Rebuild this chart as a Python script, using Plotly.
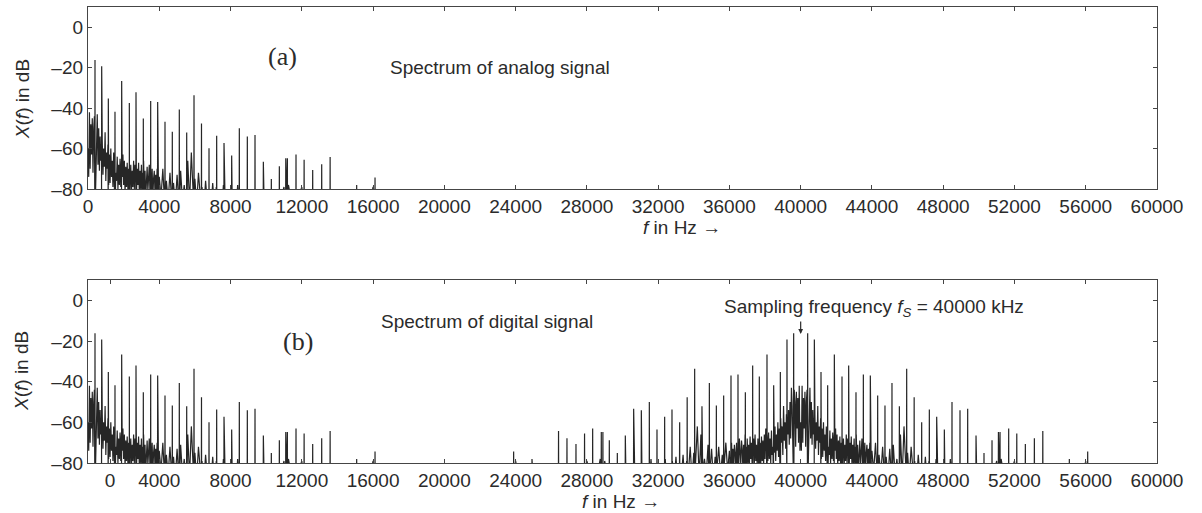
import numpy as np
import plotly.graph_objects as go

# ---------------- data ----------------
fs_hz = 40000

# harmonic spikes of the analog spectrum: frequency (Hz) and peak level (dB)
harm_f = [393, 768, 1141, 1515, 1890, 2320, 2694, 3105, 3518, 3910,
          4322, 4732, 5125, 5540, 5950, 6370, 6792, 7222, 7634, 8064,
          8494, 8943, 9374, 9842, 10290, 10740, 11100, 11190, 11675, 12130,
          12611, 13117, 13590, 15080, 16110]
harm_db = [-16.2, -19.3, -35.2, -41.8, -26.6, -37.5, -32.1, -45.2, -36.5, -37.0,
           -46.8, -51.7, -40.7, -52.1, -33.6, -47.6, -59.9, -53.7, -57.2, -63.5,
           -50.0, -54.1, -53.3, -66.5, -75.1, -68.8, -64.8, -64.8, -63.0, -65.5,
           -70.6, -67.8, -64.2, -78.0, -74.3]

# noise floor, 0 ... 3960 Hz every 40 Hz
noise0_db = [-60, -74, -42, -70, -48, -63, -45, -72, -50, -44,
             -48, -75, -52, -43, -68, -50, -71, -54, -66, -58,
             -56, -73, -60, -69, -52, -76, -62, -70, -58, -78,
             -63, -77, -60, -74, -66, -79, -62, -75, -67, -72,
             -76, -64, -80, -68, -78, -65, -79, -66, -74, -63,
             -78, -66, -82, -69, -79, -67, -81, -70, -64, -77,
             -68, -82, -71, -79, -66, -80, -68, -76, -83, -70,
             -78, -67, -82, -71, -80, -68, -83, -72, -66, -80,
             -71, -84, -73, -69, -81, -74, -68, -83, -72, -79,
             -70, -84, -75, -71, -82, -73, -80, -70, -79, -85]
# noise floor, 4000 ... 9900 Hz every 100 Hz
noise1_db = [-74, -84, -70, -82, -76, -86, -72, -83, -77, -88,
             -73, -85, -71, -86, -78, -84, -66, -87, -62, -80,
             -75, -88, -72, -85, -79, -90, -76, -87, -80, -89,
             -77, -90, -79, -86, -82, -91, -78, -88, -83, -92,
             -80, -90, -84, -92, -78, -91, -85, -93, -81, -92,
             -86, -94, -80, -92, -88, -95, -83, -93, -90, -95]
# noise floor, 10000 ... 16500 Hz every 250 Hz
noise2_db = [-90, -86, -90, -88, -79, -78, -90, -86, -79, -90,
             -88, -90, -86, -90, -88, -90, -92, -95, -95, -95,
             -90, -95, -95, -90, -79, -90, -95]

spike_base_db = -90
empty_db = -95

x_tick_vals_a = [0, 4000, 8000, 12000, 16000, 20000, 24000, 28000, 32000,
                 36000, 40000, 44000, 48000, 52000, 56000, 60000]
x_tick_text_a = ["0", "4000", "8000", "12000", "16000", "20000", "24000", "28000",
                 "32000", "36000", "40000", "44000", "48000", "52000", "56000", "60000"]
x_tick_vals_b = [1235] + x_tick_vals_a[1:]
x_tick_text_b = x_tick_text_a
y_tick_vals = [-80, -60, -40, -20, 0]
y_tick_text = ["\u201380", "\u201360", "\u201340", "\u201320", "0"]

# ---------------- build spectra ----------------
nf = np.concatenate([np.arange(0, 4000, 40), np.arange(4000, 10000, 100),
                     np.arange(10000, 16501, 250)])
ndb = np.array(noise0_db + noise1_db + noise2_db, dtype=float)
pts = list(zip(nf.tolist(), ndb.tolist()))
for f, p in zip(harm_f, harm_db):
    pts += [(f - 8, spike_base_db), (f, p), (f + 8, spike_base_db)]
pts.sort(key=lambda t: t[0])

base_x = [p[0] for p in pts]
base_y = [p[1] for p in pts]

top_x = base_x + [16700, 60000]
top_y = base_y + [empty_db, empty_db]

low_img = [(fs_hz - f, d) for f, d in reversed(pts)]
up_img = [(fs_hz + f, d) for f, d in pts]
dig = pts + [(16700, empty_db), (23300, empty_db)] + low_img + up_img + \
      [(56700, empty_db), (60000, empty_db)]
bot_x = [p[0] for p in dig]
bot_y = [p[1] for p in dig]

# ---------------- figure ----------------
FONT = "Liberation Sans, Arial, Helvetica, sans-serif"
TXT = "#2b2b2b"
LINE = "#262626"

fig = go.Figure()
fig.add_trace(go.Scatter(x=top_x, y=top_y, mode="lines",
                         line=dict(color=LINE, width=1.2), xaxis="x", yaxis="y",
                         hoverinfo="skip", showlegend=False))
fig.add_trace(go.Scatter(x=bot_x, y=bot_y, mode="lines",
                         line=dict(color=LINE, width=1.2), xaxis="x2", yaxis="y2",
                         hoverinfo="skip", showlegend=False))

axis_common = dict(showline=True, linecolor="#454545", linewidth=1.3, mirror="ticks",
                   ticks="inside", ticklen=4, tickcolor="#454545", tickwidth=1,
                   showgrid=False, zeroline=False,
                   tickfont=dict(family=FONT, size=19, color=TXT))

fig.update_layout(
    width=1202, height=513,
    margin=dict(l=88, r=45, t=7, b=50),
    paper_bgcolor="white", plot_bgcolor="white",
    xaxis=dict(axis_common, domain=[0, 1], anchor="y", range=[0, 60000],
               tickvals=x_tick_vals_a, ticktext=x_tick_text_a),
    yaxis=dict(axis_common, domain=[0.6009, 1], anchor="x", range=[-80, 10],
               tickvals=y_tick_vals, ticktext=y_tick_text),
    xaxis2=dict(axis_common, domain=[0, 1], anchor="y2", range=[0, 60000],
                tickvals=x_tick_vals_b, ticktext=x_tick_text_b),
    yaxis2=dict(axis_common, domain=[0, 0.4013], anchor="x2", range=[-80, 10],
                tickvals=y_tick_vals, ticktext=y_tick_text),
)

def ann(text, x, y, size=19, family=FONT, angle=0, xanchor="center"):
    fig.add_annotation(text=text, x=x, y=y, xref="paper", yref="paper",
                       showarrow=False, textangle=angle, xanchor=xanchor,
                       yanchor="middle",
                       font=dict(family=family, size=size, color=TXT))

ann("<i>X</i>(<i>f</i>) in dB", -0.0617, 0.798, angle=-90)
ann("<i>X</i>(<i>f</i>) in dB", -0.0617, 0.2018, angle=-90)
ann("<i>f</i> in Hz \u2192", 0.5557, 0.5154)
ann("<i>f</i> in Hz \u2192", 0.4986, -0.0855)
ann("(a)", 0.1824, 0.8904, size=26, family="Liberation Serif, Times New Roman, serif")
ann("(b)", 0.1964, 0.2654, size=26, family="Liberation Serif, Times New Roman, serif")
ann("Spectrum of analog signal", 0.3854, 0.8684)
ann("Spectrum of digital signal", 0.3732, 0.3114)
ann("Sampling frequency <i>f</i><sub><i>S</i></sub> = 40000 kHz", 0.5931, 0.3399,
    xanchor="left")

fig.add_annotation(x=fs_hz, y=-16.5, xref="x2", yref="y2", text="", showarrow=True,
                   ax=0, ay=-14, arrowhead=2, arrowsize=0.8, arrowwidth=1.2,
                   arrowcolor=TXT)

fig.write_html("out.html")
